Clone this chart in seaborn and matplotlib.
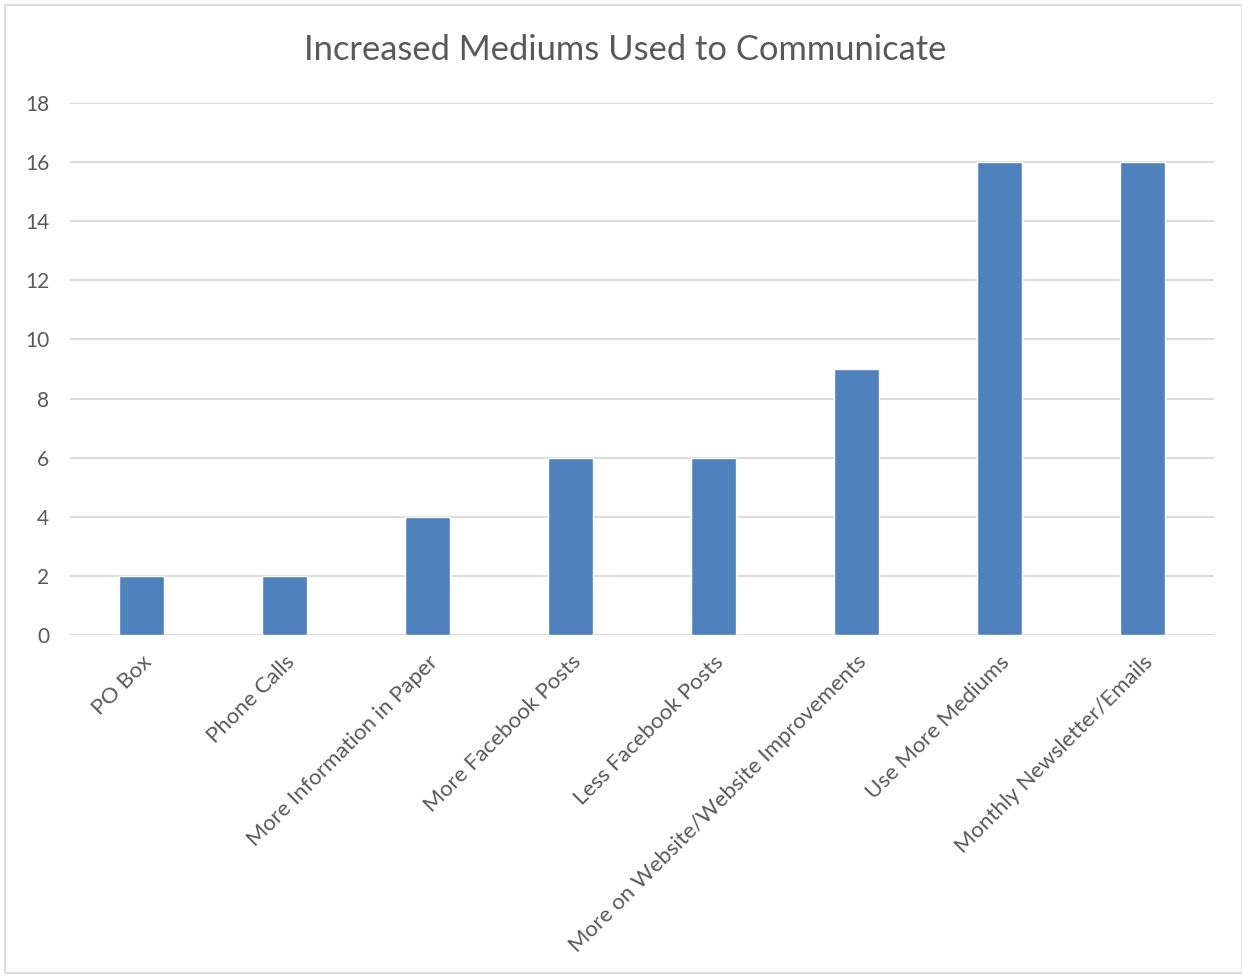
import matplotlib
matplotlib.use("Agg")
import matplotlib.pyplot as plt
import seaborn as sns
import pandas as pd
from matplotlib.patches import Rectangle

categories = ["PO Box", "Phone Calls", "More Information in Paper", "More Facebook Posts",
              "Less Facebook Posts", "More on Website/Website Improvements",
              "Use More Mediums", "Monthly Newsletter/Emails"]
values = [2, 2, 4, 6, 6, 9, 16, 16]
yticks = [0, 2, 4, 6, 8, 10, 12, 14, 16, 18]

sns.set_style("white")
plt.rcParams['font.family'] = ['Lato', 'DejaVu Sans']

df = pd.DataFrame({"cat": categories, "val": values})

fig = plt.figure(figsize=(12.42, 9.76), dpi=100)
ax = fig.add_axes([70/1242, 1-635/976, (1214-70)/1242, (635-103)/976])

sns.barplot(data=df, x="cat", y="val", color="#4F81BD", saturation=1, width=0.315, ax=ax, zorder=3)

ax.set_ylim(0, 18)
ax.set_xlim(-0.5, len(categories)-0.5)
ax.set_yticks(yticks)
ax.set_yticklabels([str(t) for t in yticks], fontsize=15, color="#595959")
ax.yaxis.grid(True, color="#D9D9D9", linewidth=1.3, zorder=0)
ax.set_axisbelow(True)
for s in ax.spines.values():
    s.set_visible(False)
ax.tick_params(axis='both', length=0)
ax.tick_params(axis='y', pad=15)
ax.set_xlabel("")
ax.set_ylabel("")
ax.set_xticks(range(len(categories)))
ax.set_xticklabels(categories, rotation=45, ha='right', rotation_mode='anchor',
                   fontsize=16, color="#595959")
ax.tick_params(axis='x', pad=12)
ax.axhline(0, color="#D9D9D9", linewidth=1.3, zorder=2)

fig.text(625/1242, 1-50/976, "Increased Mediums Used to Communicate", ha='center', va='center',
         fontsize=24.8, color="#595959")

fig.patches.append(Rectangle((5/1242, 3/976), 1-5/1242, 1-8/976, transform=fig.transFigure,
                             fill=False, edgecolor="#D9D9D9", linewidth=1.3))

fig.savefig("out.png", dpi=100)
